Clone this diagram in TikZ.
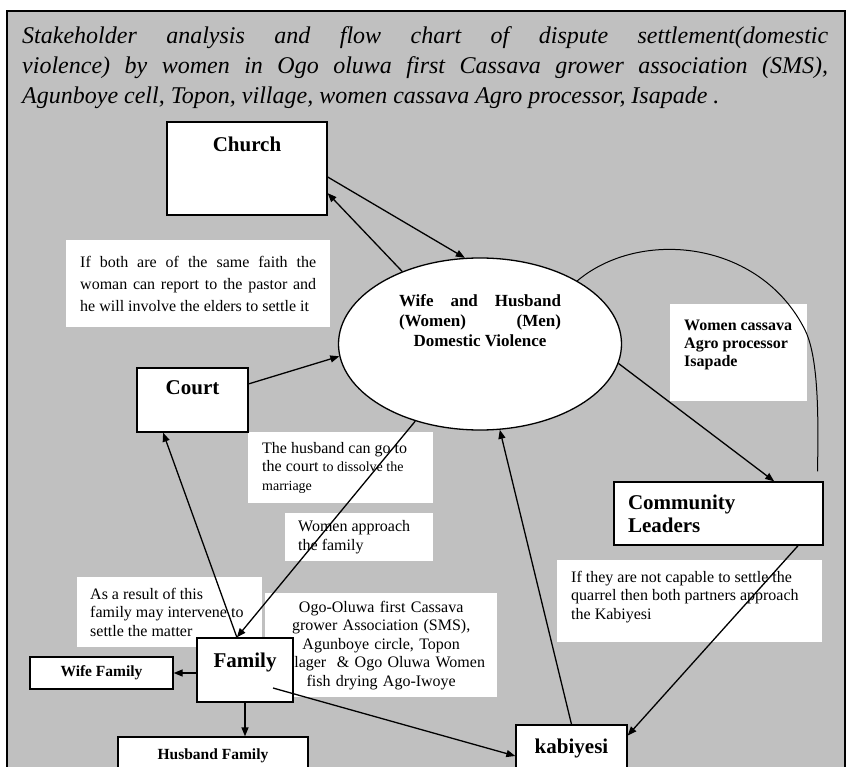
\documentclass[tikz,border=0pt]{standalone}
\usepackage{fontspec}
\setmainfont{Liberation Serif}
\usetikzlibrary{arrows.meta,shapes.geometric}
\definecolor{rahmengrau}{RGB}{192,192,192}
\newcommand{\blockzeile}[2]{\makebox[#1][s]{#2}}
\tikzset{
  kasten/.style={draw, fill=white, line width=1.3pt, inner sep=0pt,
    font=\bfseries\fontsize{21}{23}\selectfont},
  kleinkasten/.style={draw, fill=white, line width=1.3pt, inner sep=0pt,
    font=\bfseries\fontsize{15.5}{18}\selectfont},
  notiz/.style={fill=white, anchor=north west, inner ysep=0pt, align=justify,
    font=\fontsize{16}{18.5}\selectfont},
  pfeil/.style={->, line width=1.3pt},
}

\begin{document}
\begin{tikzpicture}[x=1pt, y=-1pt, >={Triangle[length=9pt,width=7pt]}]
  \useasboundingbox (0,0) rectangle (852,767);
  \clip (0,0) rectangle (852,767);

  % Rahmen
  \draw[line width=2pt, fill=rahmengrau] (7,11) rectangle (845,800);

  % Titel
  \node[anchor=north west, inner sep=0pt, text width=806pt, align=justify,
        font=\itshape\fontsize{24}{30}\selectfont] (titel) at (22,26)
    {\blockzeile{806pt}{Stakeholder analysis and flow chart of dispute settlement(domestic}\\
     \blockzeile{806pt}{violence) by women in Ogo oluwa first Cassava grower association (SMS),}\\
     \mbox{Agunboye cell, Topon, village, women cassava Agro processor, Isapade .}};

  % Hinweise
  \node[notiz, minimum width=264pt, minimum height=87pt, text width=236pt, inner xsep=14pt,
        font=\fontsize{16}{22}\selectfont] (glaube) at (66,240)
    {\blockzeile{236pt}{If both are of the same faith the}\\
     \blockzeile{236pt}{woman can report to the pastor and}\\
     \mbox{he will involve the elders to settle it}};
  \node[notiz, minimum width=137pt, minimum height=97pt, text width=109pt, inner xsep=14pt,
        font=\bfseries\fontsize{16}{18}\selectfont] (isapade) at (670,304)
    {\mbox{Women cassava}\\ \mbox{Agro processor}\\ Isapade\\ \mbox{}};
  \node[notiz, minimum width=185pt, minimum height=71pt, text width=157pt, inner xsep=14pt] (gericht) at (248,432)
    {\mbox{The husband can go to}\\ \mbox{the court {\fontsize{14}{18.5}\selectfont to dissolve the}}\\
     {\fontsize{14}{18.5}\selectfont marriage}};
  \node[notiz, minimum width=148pt, minimum height=48pt, text width=122pt, inner xsep=13pt] (frauen) at (285,513)
    {\mbox{Women approach}\\ the family};
  \node[notiz, minimum width=265pt, minimum height=82pt, text width=237pt, inner xsep=14pt] (partner) at (557,560)
    {\mbox{If they are not capable to settle the}\\ \mbox{quarrel then both partners approach}\\ the Kabiyesi\\[-6pt] \mbox{}};
  \node[notiz, minimum width=185pt, minimum height=70pt, text width=159pt, inner xsep=13pt] (folge) at (77,577)
    {\mbox{As a result of this}\\ \mbox{family may intervene to}\\ \mbox{settle the matter}};
  \node[notiz, minimum width=232pt, minimum height=104pt, text width=212pt, inner xsep=10pt, align=center] (ogo) at (265,593)
    {Ogo-Oluwa first Cassava\\ grower Association (SMS),\\ Agunboye circle, Topon\\
     villager~ \& Ogo Oluwa Women\\ fish drying Ago-Iwoye};

  % Knoten
  \node[ellipse, draw, fill=white, line width=1.3pt, minimum width=283pt, minimum height=172pt,
        inner sep=0pt, align=center, font=\bfseries\fontsize{17}{20}\selectfont] (ehe) at (480,344)
    {\blockzeile{162pt}{Wife and Husband}\\ \blockzeile{162pt}{(Women) (Men)}\\ Domestic Violence\\[26pt] \mbox{}};
  \node[kasten, minimum width=160pt, text height=30pt, text depth=63pt] (kirche) at (247,168.5) {Church};
  \node[kasten, minimum width=111pt, text height=27pt, text depth=37pt] (court) at (192.5,400) {Court};
  \node[kasten, text width=181pt, inner xsep=14pt, minimum height=63pt, align=justify] (leiter) at (718.5,513.5)
    {Community\\ Leaders};
  \node[kasten, minimum width=96pt, text height=29pt, text depth=35pt] (familie) at (245,670) {Family};
  \node[kleinkasten, minimum width=143pt, minimum height=32pt] (wife) at (101.5,673) {Wife Family};
  \node[kleinkasten, minimum width=190pt, text height=22pt, text depth=30pt] (husband) at (213,763) {Husband Family};
  \node[kasten, minimum width=111pt, text height=28pt, text depth=34pt] (kabiyesi) at (571.5,756) {kabiyesi};
  \coordinate (famab) at (273,688);

  % Pfeile
  \draw[pfeil] (kirche.-6) -- (ehe.100);
  \draw[pfeil] (ehe.137) -- (kirche.-17);
  \draw[pfeil] (court.16) -- (ehe.185);
  \draw[pfeil] (ehe.230) -- (familie.104);
  \draw[pfeil] (familie.104) -- (court.228);
  \draw[pfeil] (familie.west |- wife.east) -- (wife.east);
  \draw[pfeil] (familie.south) -- (familie.south |- husband.north);
  \draw[pfeil] (famab) -- (kabiyesi.west);
  \draw[pfeil] (kabiyesi.north) -- (ehe.283);
  \draw[pfeil] (ehe.352) -- (leiter.30);
  \draw[pfeil] (leiter.-22) -- (kabiyesi.20);
  \draw[line width=1pt, shorten >=10pt] (ehe.33) .. controls (640,228) and (760,240) .. (805,330)
    .. controls (820,360) and (818,430) .. (leiter.18);
\end{tikzpicture}
\end{document}
